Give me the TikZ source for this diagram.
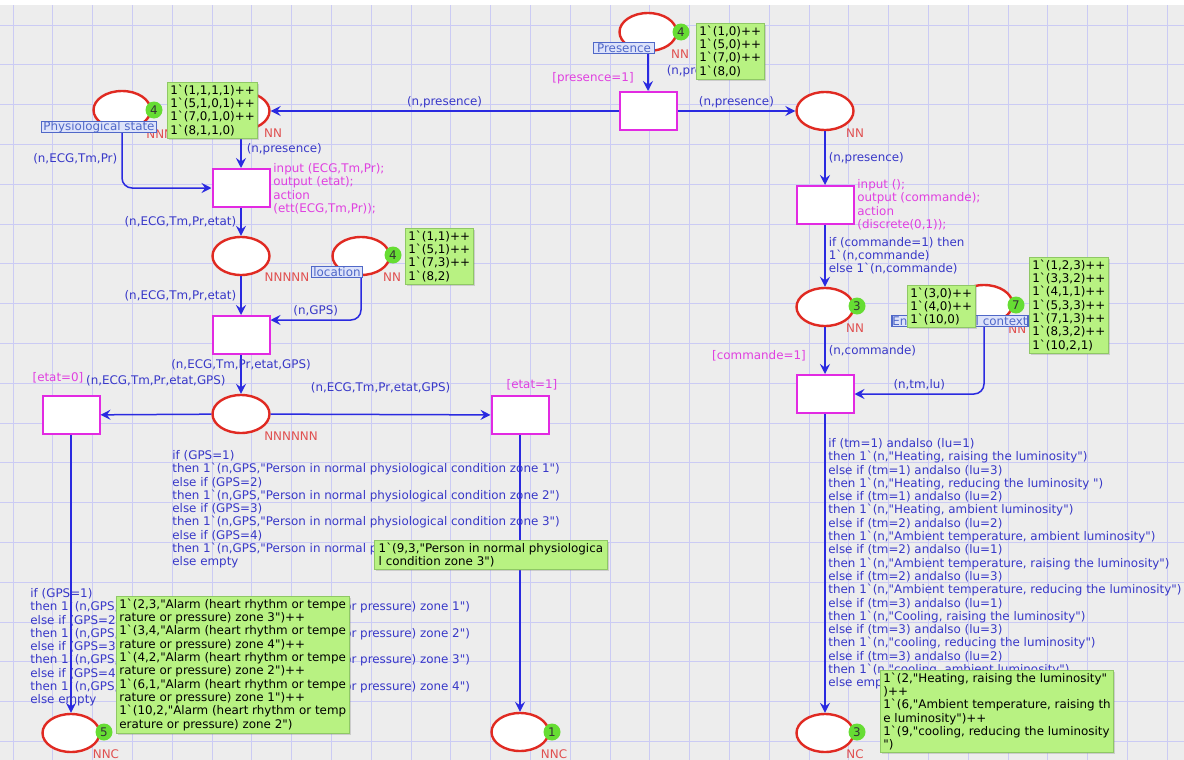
\documentclass[tikz,border=0pt]{standalone}
\usepackage{fontspec}
\setmainfont{DejaVu Sans}[Ligatures=TeXOff]
\usetikzlibrary{arrows.meta, positioning, shapes.geometric, shadows}

\definecolor{bggray}{HTML}{EDEDED}
\definecolor{gridc}{HTML}{CBCBF4}
\definecolor{arcblue}{HTML}{2A2AE0}
\definecolor{insblue}{HTML}{3838C8}
\definecolor{placered}{HTML}{E02A22}
\definecolor{transmag}{HTML}{E22AE2}
\definecolor{guardmag}{HTML}{E040E0}
\definecolor{typered}{HTML}{E05050}
\definecolor{cntgreen}{HTML}{66DD33}
\definecolor{namefill}{HTML}{DDE3FA}
\definecolor{nameblue}{HTML}{5068C8}
\definecolor{tokgreen}{HTML}{B8F282}
\definecolor{tokedge}{HTML}{8FC865}

\newcommand{\bq}{\char"60}

\begin{document}
\begin{tikzpicture}[x=0.5pt, y=-0.5pt,
  every node/.style={font=\fontsize{5.95}{6.65}\selectfont, inner sep=0pt},
  cpnplace/.style={ellipse, draw=placered, line width=1.2pt, fill=white,
                   minimum width=28.5pt, minimum height=19pt},
  cpntrans/.style={rectangle, draw=transmag, line width=1pt, fill=white,
                   minimum width=28.5pt, minimum height=19pt},
  arc/.style={-{Stealth[length=5pt, width=5pt, inset=1.8pt]}, arcblue, line width=0.75pt},
  inscr/.style={text=insblue, align=left},
  guard/.style={text=guardmag},
  codeseg/.style={text=guardmag, align=left, anchor=north west},
  ctype/.style={text=typered},
  tokcount/.style={circle, fill=cntgreen, minimum size=8.5pt, text=black!80},
  pname/.style={rectangle, draw=nameblue, fill=namefill, text=nameblue,
                line width=0.6pt, minimum height=5.5pt, minimum width=#1},
  marking/.style={rectangle, draw=tokedge, fill=tokgreen, line width=0.4pt,
                  align=left, anchor=north west, inner xsep=1.5pt, inner ysep=1.2pt,
                  minimum width=#1,
                  drop shadow={shadow xshift=0.8pt, shadow yshift=-0.8pt, opacity=0.3}},
]

\def\xL{71} \def\xA{241} \def\xM{520} \def\xP{648} \def\xR{825}

\useasboundingbox (0,0) rectangle (1184,760);

% Fond et grille
\fill[white] (0,0) rectangle (1184,760);
\fill[bggray] (0,5) rectangle (1184,760);
\foreach \gx in {0,...,29}
  \draw[gridc, line width=0.5pt] ({13+39.8*\gx},5) -- ({13+39.8*\gx},760);
\foreach \gy in {0,...,18}
  \draw[gridc, line width=0.5pt] (0,{25+39.8*\gy}) -- (1184,{25+39.8*\gy});

% Places
\node[cpnplace] (pres) at (\xP,32)  {};
\node[cpnplace] (phys) at (122,110) {};
\node[cpnplace] (pp1)  at (\xA,111) {};
\node[cpnplace] (pp2)  at (\xA,256) {};
\node[cpnplace] (loc)  at (361,256) {};
\node[cpnplace] (pp3)  at (\xA,414) {};
\node[cpnplace] (pp4)  at (\xL,733) {};
\node[cpnplace] (pp5)  at (\xM,732) {};
\node[cpnplace] (pp6)  at (\xR,111) {};
\node[cpnplace] (pp7)  at (\xR,307) {};
\node[cpnplace] (env)  at (984,304) {};
\node[cpnplace] (pp9)  at (\xR,733) {};

% Transitions
\node[cpntrans] (t0) at (\xP,111) {};
\node[cpntrans] (t1) at (\xA,188) {};
\node[cpntrans] (t2) at (\xA,335) {};
\node[cpntrans] (t3) at (\xL,415) {};
\node[cpntrans] (t4) at (\xM,415) {};
\node[cpntrans] (t5) at (\xR,205) {};
\node[cpntrans] (t6) at (\xR,394) {};

% Arcs
\draw[arc] (pres) -- (t0)
  node[inscr, midway, right=9pt] {(n,presence)};
\draw[arc] (t0) -- (pp1)
  node[inscr, midway, above=1pt] {(n,presence)};
\draw[arc] (t0) -- (pp6)
  node[inscr, midway, above=1pt] {(n,presence)};
\draw[arc] (pp1) -- (t1)
  node[inscr, midway, right=2.5pt] {(n,presence)};
\draw[arc, rounded corners=5pt] (phys) |- (t1)
  node[inscr, pos=0.25, left=2pt] {(n,ECG,Tm,Pr)};
\draw[arc] (t1) -- (pp2)
  node[inscr, midway, left=2pt] {(n,ECG,Tm,Pr,etat)};
\draw[arc] (pp2) -- (t2)
  node[inscr, midway, left=2pt] {(n,ECG,Tm,Pr,etat)};
\draw[arc, rounded corners=5pt] (loc) |- ([yshift=7.5pt]t2.east)
  node[inscr, pos=0.75, above=1.5pt] {(n,GPS)};
\draw[arc] (t2) -- (pp3)
  node[inscr, pos=0.25] {(n,ECG,Tm,Pr,etat,GPS)};
\draw[arc] (pp3) -- (t3)
  node[inscr, midway, above=14pt] {(n,ECG,Tm,Pr,etat,GPS)};
\draw[arc] (pp3) -- (t4)
  node[inscr, midway, above=10.5pt] {(n,ECG,Tm,Pr,etat,GPS)};
\draw[arc] (t3) -- (pp4);
\draw[arc] (t4) -- (pp5);
\draw[arc] (pp6) -- (t5)
  node[inscr, midway, right=1.5pt] {(n,presence)};
\draw[arc] (t5) -- (pp7)
  node[inscr, midway, right=1.5pt] {if (commande=1) then\\1\bq(n,commande)\\else 1\bq(n,commande)};
\draw[arc] (pp7) -- (t6)
  node[inscr, midway, right=1.5pt] {(n,commande)};
\draw[arc, rounded corners=5pt] (env) |- (t6)
  node[inscr, pos=0.75, above=1.5pt] {(n,tm,lu)};
\draw[arc] (t6) -- (pp9);

% Inscriptions longues
\node[inscr, anchor=north west] (insPers) at (172,450) {if (GPS=1)\\
then 1\bq(n,GPS,"Person in normal physiological condition zone 1")\\
else if (GPS=2)\\
then 1\bq(n,GPS,"Person in normal physiological condition zone 2")\\
else if (GPS=3)\\
then 1\bq(n,GPS,"Person in normal physiological condition zone 3")\\
else if (GPS=4)\\
then 1\bq(n,GPS,"Person in normal physiological condition zone 4")\\
else empty};
\node[inscr, anchor=north west] (insAlarm) at (30,588) {if (GPS=1)\\
then 1\bq(n,GPS,"Alarm (heart rhythm or temperature or pressure) zone 1")\\
else if (GPS=2)\\
then 1\bq(n,GPS,"Alarm (heart rhythm or temperature or pressure) zone 2")\\
else if (GPS=3)\\
then 1\bq(n,GPS,"Alarm (heart rhythm or temperature or pressure) zone 3")\\
else if (GPS=4)\\
then 1\bq(n,GPS,"Alarm (heart rhythm or temperature or pressure) zone 4")\\
else empty};
\node[inscr, anchor=north west] (insCtx) at (828,438) {if (tm=1) andalso (lu=1)\\
then 1\bq(n,"Heating, raising the luminosity")\\
else if (tm=1) andalso (lu=3)\\
then 1\bq(n,"Heating, reducing the luminosity ")\\
else if (tm=1) andalso (lu=2)\\
then 1\bq(n,"Heating, ambient luminosity")\\
else if (tm=2) andalso (lu=2)\\
then 1\bq(n,"Ambient temperature, ambient luminosity")\\
else if (tm=2) andalso (lu=1)\\
then 1\bq(n,"Ambient temperature, raising the luminosity")\\
else if (tm=2) andalso (lu=3)\\
then 1\bq(n,"Ambient temperature, reducing the luminosity")\\
else if (tm=3) andalso (lu=1)\\
then 1\bq(n,"Cooling, raising the luminosity")\\
else if (tm=3) andalso (lu=3)\\
then 1\bq(n,"cooling, reducing the luminosity")\\
else if (tm=3) andalso (lu=2)\\
then 1\bq(n,"cooling, ambient luminosity")\\
else empty};

% Gardes et segments de code
\node[guard] (g0) at (593,78)  {[presence=1]};
\node[guard] (g3) at (58,378)  {[etat=0]};
\node[guard] (g4) at (532,385) {[etat=1]};
\node[guard] (g6) at (759,356) {[commande=1]};
\node[codeseg] (c1) at (273,163) {input (ECG,Tm,Pr);\\output (etat);\\action\\(ett(ECG,Tm,Pr));};
\node[codeseg] (c5) at (857,179) {input ();\\output (commande);\\action\\(discrete(0,1));};

% Types des places
\node[ctype] at (680,54)  {NN};
\node[ctype, anchor=west] at (146,134) {NNN};
\node[ctype] at (273,133) {NN};
\node[ctype] at (287,277) {NNNNN};
\node[ctype] at (392,277) {NN};
\node[ctype] at (291,436) {NNNNNN};
\node[ctype] at (106,754) {NNC};
\node[ctype] at (554,754) {NNC};
\node[ctype] at (855,133) {NN};
\node[ctype] at (855,328) {NN};
\node[ctype, anchor=west] at (1008,329) {NN};
\node[ctype] at (855,754) {NC};

% Noms des places
\node[pname=30.5pt] (nPres) at (624,48)  {Presence};
\node[pname=57.5pt] (nPhys) at (99,127)  {Physiological state};
\node[pname=25.5pt] (nLoc)  at (337,272) {location};
\node[pname=68pt]   (nEnv)  at (960,321) {Environmental context};

% Nombre de jetons
\node[tokcount] at (681,32)  {4};
\node[tokcount] at (154,110) {4};
\node[tokcount] at (393,255) {4};
\node[tokcount] at (104,732) {5};
\node[tokcount] at (552,732) {1};
\node[tokcount] at (857,306) {3};
\node[tokcount] at (1016,305) {7};
\node[tokcount] at (857,732) {3};

% Marquages
\node[marking=33pt] (mPres) at (696,23)
  {1\bq(1,0)++\\1\bq(5,0)++\\1\bq(7,0)++\\1\bq(8,0)};
\node[marking=44pt] (mPhys) at (167,82)
  {1\bq(1,1,1,1)++\\1\bq(5,1,0,1)++\\1\bq(7,0,1,0)++\\1\bq(8,1,1,0)};
\node[marking=30pt] (mLoc) at (405,228)
  {1\bq(1,1)++\\1\bq(5,1)++\\1\bq(7,3)++\\1\bq(8,2)};
\node[marking=32.5pt] (mCmd) at (907,285)
  {1\bq(3,0)++\\1\bq(4,0)++\\1\bq(10,0)};
\node[marking=39pt] (mEnv) at (1029,257)
  {1\bq(1,2,3)++\\1\bq(3,3,2)++\\1\bq(4,1,1)++\\1\bq(5,3,3)++\\1\bq(7,1,3)++\\1\bq(8,3,2)++\\1\bq(10,2,1)};
\node[marking=115.5pt] (mAlarm) at (116,596)
  {1\bq(2,3,"Alarm (heart rhythm or tempe\\rature or pressure) zone 3")++\\
   1\bq(3,4,"Alarm (heart rhythm or tempe\\rature or pressure) zone 4")++\\
   1\bq(4,2,"Alarm (heart rhythm or tempe\\rature or pressure) zone 2")++\\
   1\bq(6,1,"Alarm (heart rhythm or tempe\\rature or pressure) zone 1")++\\
   1\bq(10,2,"Alarm (heart rhythm or temp\\erature or pressure) zone 2")};
\node[marking=116.5pt] (mPers) at (374,540)
  {1\bq(9,3,"Person in normal physiologica\\l condition zone 3")};
\node[marking=115pt] (mCtx) at (880,670)
  {1\bq(2,"Heating, raising the luminosity"\\)++\\
   1\bq(6,"Ambient temperature, raising th\\e luminosity")++\\
   1\bq(9,"cooling, reducing the luminosity\\")};

\end{tikzpicture}
\end{document}
